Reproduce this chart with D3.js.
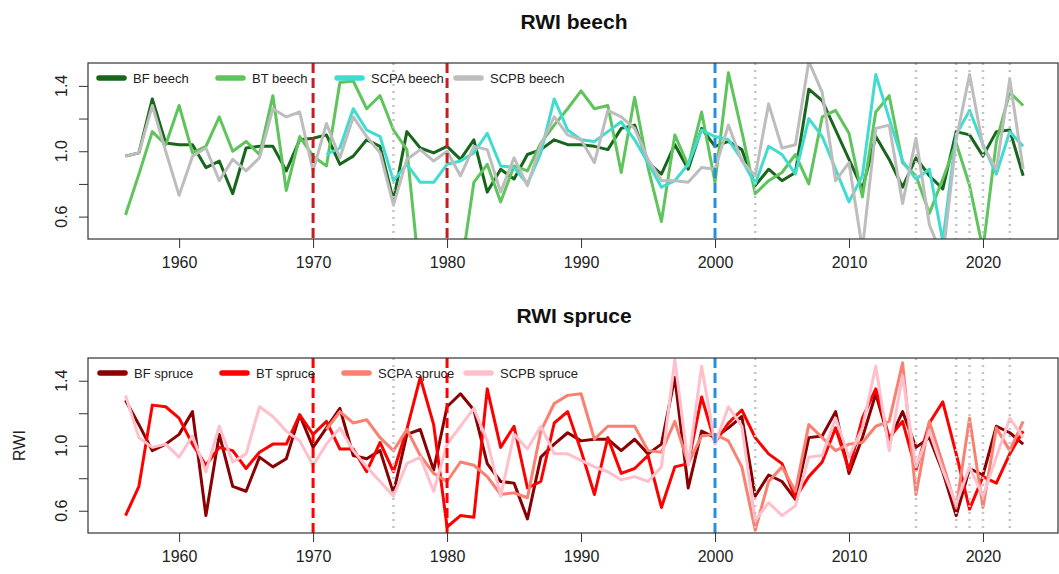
<!DOCTYPE html>
<html>
<head>
<meta charset="utf-8">
<script src="https://cdn.jsdelivr.net/npm/d3@7"></script>
<style>
  body { margin: 0; background: #fff; }
  text { font-family: "Liberation Sans", Arial, sans-serif; }
</style>
</head>
<body>
<div id="chart"></div>
<script>
  "use strict";

  // years 1956 - 2023
  var years = d3.range(1956, 2024);

  var bfBeech = [0.97, 0.99, 1.32, 1.05, 1.04, 1.04, 0.90, 0.94, 0.74, 1.02, 1.03, 1.03, 0.88, 1.07, 1.08, 1.10, 0.92, 0.97, 1.07, 1.03, 0.70, 1.12, 1.02, 0.99,
    1.03, 0.95, 1.07, 0.75, 0.89, 0.83, 0.98, 1.01, 1.07, 1.04, 1.04, 1.03, 1.01, 1.14, 1.16, 0.93, 0.86, 1.04, 0.89, 1.14, 1.03, 1.06, 1.01,
    0.79, 0.89, 0.82, 0.87, 1.38, 1.31, 1.13, 0.95, 0.77, 1.09, 0.95, 0.78, 0.96, 0.85, 0.77, 1.12, 1.10, 0.97, 1.12, 1.13, 0.85];
  var btBeech = [0.61, 0.86, 1.12, 1.04, 1.28, 0.99, 1.03, 1.21, 1.00, 1.06, 0.98, 1.34, 0.76, 1.09, 0.97, 0.91, 1.42, 1.43, 1.26, 1.34, 1.13, 1.01, 0.20, 0.30,
    0.25, 0.25, 0.81, 0.92, 0.69, 0.91, 0.88, 1.05, 1.16, 1.26, 1.37, 1.26, 1.28, 0.87, 1.33, 0.90, 0.57, 1.10, 0.91, 1.24, 0.81, 1.48, 1.12,
    0.74, 0.82, 0.87, 0.98, 0.80, 1.21, 1.25, 1.11, 0.72, 1.24, 1.34, 0.93, 0.85, 0.62, 0.83, 1.05, 0.79, 0.40, 1.06, 1.36, 1.28];
  var scpaBeech = [null, null, null, null, null, null, null, null, null, null, null, null, null, null, null, 0.98, 1.02, 1.26, 1.13, 1.09, 0.82, 0.92, 0.81, 0.81,
    0.92, 0.94, 0.99, 1.11, 0.91, 0.90, 0.80, 0.99, 1.32, 1.13, 1.07, 1.06, 1.12, 1.18, 1.07, 0.93, 0.78, 0.82, 0.92, 1.13, 1.09, 1.07, 0.95,
    0.80, 1.03, 0.98, 0.86, 1.20, 1.09, 0.89, 0.69, 0.85, 1.47, 1.20, 0.94, 0.83, 0.89, 0.45, 1.10, 1.25, 1.04, 0.86, 1.12, 1.03];
  var scpbBeech = [0.97, 0.99, 1.28, 1.00, 0.73, 0.97, 1.02, 0.82, 0.95, 0.88, 0.96, 1.26, 1.21, 1.24, 0.88, 1.17, 0.96, 1.21, 1.09, 0.99, 0.67, 0.95, 1.01, 0.94,
    1.00, 0.85, 1.03, 1.01, 0.75, 0.96, 0.79, 1.04, 1.21, 1.10, 1.07, 0.93, 1.25, 1.21, 1.14, 0.95, 0.82, 0.82, 0.81, 0.90, 0.89, 1.16, 0.94,
    0.85, 1.29, 1.02, 1.04, 1.55, 1.36, 0.82, 0.93, 0.40, 1.14, 1.16, 0.68, 1.08, 0.55, 0.35, 1.07, 1.47, 1.03, 0.89, 1.44, 0.89];

  var bfSpruce = [1.28, 1.13, 0.97, 1.01, 1.07, 1.21, 0.57, 1.07, 0.75, 0.72, 0.93, 0.87, 0.92, 1.19, 0.99, 1.11, 1.23, 0.94, 0.92, 0.97, 0.71, 1.07, 1.10, 0.85,
    1.24, 1.32, 1.22, 0.89, 0.78, 0.77, 0.55, 0.93, 1.01, 1.08, 1.03, 1.04, 1.04, 0.97, 1.04, 0.95, 1.01, 1.42, 0.74, 1.09, 1.05, 1.11, 1.18,
    0.69, 0.82, 0.78, 0.67, 1.05, 1.06, 1.21, 0.83, 1.05, 1.32, 1.03, 1.21, 0.99, 1.05, 0.84, 0.57, 0.86, 0.82, 1.12, 1.08, 1.01];
  var btSpruce = [0.57, 0.75, 1.25, 1.24, 1.17, 1.01, 0.88, 0.99, 0.97, 0.86, 0.96, 1.01, 1.01, 1.19, 1.07, 1.15, 0.98, 0.98, 0.84, 1.02, 0.84, 1.10, 1.42, 1.13,
    0.50, 0.57, 0.56, 1.35, 0.99, 1.12, 0.74, 0.78, 1.14, 1.21, 0.97, 0.70, 1.05, 0.83, 0.86, 0.94, 0.62, 0.87, 0.89, 1.30, 1.02, 1.14, 1.22,
    1.05, 0.95, 0.89, 0.68, 0.81, 0.90, 1.11, 0.85, 1.17, 1.35, 1.05, 1.15, 0.85, 1.14, 1.27, 0.95, 0.61, 0.81, 0.77, 0.95, 1.09];
  var scpaSpruce = [null, null, null, null, null, null, null, null, null, null, null, null, null, null, null, 1.10, 1.21, 1.14, 1.16, 1.05, 0.97, 1.10, 0.94, 0.83,
    0.78, 0.90, 0.88, 0.81, 0.70, 0.71, 0.68, 1.09, 1.26, 1.31, 1.32, 1.04, 1.12, 1.12, 1.12, 0.97, 0.96, 1.15, 0.89, 1.06, 1.07, 1.03, 0.87,
    0.48, 0.78, 0.87, 0.72, 1.13, 1.05, 0.97, 1.01, 1.02, 1.12, 1.15, 1.51, 0.70, 1.15, 0.89, 0.62, 1.17, 0.62, 1.11, 0.97, 1.15];
  var scpbSpruce = [1.31, 1.05, 0.99, 1.01, 0.93, 1.06, 0.84, 1.12, 0.90, 0.95, 1.24, 1.18, 1.09, 1.03, 0.88, 1.01, 1.11, 0.97, 0.87, 0.78, 0.69, 0.89, 0.93, 0.72,
    1.01, 1.12, 1.23, 1.03, 0.69, 1.07, 0.98, 1.12, 0.95, 0.95, 0.91, 0.87, 0.84, 0.79, 0.81, 0.78, 0.87, 1.53, 0.88, 1.49, 1.01, 1.24, 1.12,
    0.54, 0.65, 0.57, 0.63, 0.93, 0.94, 1.17, 0.93, 1.11, 1.49, 0.97, 1.43, 0.87, 1.09, 0.85, 0.64, 0.87, 0.69, 0.93, 1.17, 1.05];

  var beechNames = ["BF beech", "BT beech", "SCPA beech", "SCPB beech"];
  var spruceNames = ["BF spruce", "BT spruce", "SCPA spruce", "SCPB spruce"];

  // event years
  var dashedYears = [1970, 1980, 2000];
  var dottedYears = [1976, 2003, 2015, 2018, 2019, 2020, 2022];
  var xTicks = [1960, 1970, 1980, 1990, 2000, 2010, 2020];
  var yTicks = [0.6, 0.8, 1.0, 1.2, 1.4];
  var yLabels = [0.6, 1.0, 1.4];

  var width = 1059, height = 574;
  var left = 88, right = 1058;

  var svg = d3.select("#chart").append("svg")
    .attr("width", width)
    .attr("height", height);

  var x = d3.scaleLinear().domain([1953.2, 2025.6]).range([left, right]);

  function drawPanel(opts) {
    var y = d3.scaleLinear().domain([0.463, 1.54]).range([opts.bottom, opts.top]);
    var g = svg.append("g");

    // clip to plot box
    g.append("clipPath").attr("id", "clip-" + opts.id)
      .append("rect")
      .attr("x", left).attr("y", opts.top)
      .attr("width", right - left).attr("height", opts.bottom - opts.top);

    // title
    g.append("text")
      .attr("x", 574)
      .attr("y", opts.titleY)
      .attr("text-anchor", "middle")
      .style("font-size", "21px")
      .style("font-weight", "bold")
      .attr("fill", "#111")
      .text(opts.title);

    var line = d3.line()
      .defined(function (d) { return d[1] != null; })
      .x(function (d) { return x(d[0]); })
      .y(function (d) { return y(d[1]); });

    var lines = g.append("g").attr("clip-path", "url(#clip-" + opts.id + ")");
    opts.series.forEach(function (s, i) {
      lines.append("path")
        .datum(years.map(function (yr, j) { return [yr, s[j]]; }))
        .attr("fill", "none")
        .attr("stroke", opts.colors[i])
        .attr("stroke-width", 3)
        .attr("stroke-linejoin", "round")
        .attr("d", line);
    });

    // vertical markers
    lines.selectAll("line.dotted")
      .data(dottedYears)
      .enter().append("line")
      .attr("x1", function (d) { return x(d); })
      .attr("x2", function (d) { return x(d); })
      .attr("y1", opts.top).attr("y2", opts.bottom)
      .attr("stroke", "#c4c4c4")
      .attr("stroke-width", 2.5)
      .attr("stroke-dasharray", "2,5");
    lines.selectAll("line.dashed")
      .data(dashedYears)
      .enter().append("line")
      .attr("x1", function (d) { return x(d); })
      .attr("x2", function (d) { return x(d); })
      .attr("y1", opts.top).attr("y2", opts.bottom)
      .attr("stroke", function (d) { return d === 2000 ? "#2590e0" : opts.markRed; })
      .attr("stroke-width", 3)
      .attr("stroke-dasharray", "10,5");

    // box
    g.append("rect")
      .attr("x", left).attr("y", opts.top)
      .attr("width", right - left).attr("height", opts.bottom - opts.top)
      .attr("fill", "none")
      .attr("stroke", "#333")
      .attr("stroke-width", 1.2);

    // x axis
    var xAxis = d3.axisBottom(x).tickValues(xTicks).tickFormat(d3.format("d")).tickSize(9).tickPadding(9);
    var xa = g.append("g")
      .attr("transform", "translate(0," + opts.bottom + ")")
      .call(xAxis);
    xa.select(".domain").remove();
    xa.selectAll("line").attr("stroke", "#333");
    xa.selectAll("text").style("font-size", "16px").attr("fill", "#222");

    // y axis
    var yAxis = d3.axisLeft(y).tickValues(yTicks).tickSize(9).tickFormat("");
    var ya = g.append("g")
      .attr("transform", "translate(" + left + ",0)")
      .call(yAxis);
    ya.select(".domain").remove();
    ya.selectAll("line").attr("stroke", "#333");
    g.selectAll("text.ylab")
      .data(yLabels)
      .enter().append("text")
      .attr("class", "ylab")
      .attr("transform", function (d) { return "translate(" + (left - 21) + "," + y(d) + ") rotate(-90)"; })
      .attr("text-anchor", "middle")
      .style("font-size", "16px")
      .attr("fill", "#222")
      .text(d3.format(".1f"));

    if (opts.yTitle) {
      g.append("text")
        .attr("transform", "translate(25," + (opts.top + opts.bottom) / 2 + ") rotate(-90)")
        .attr("text-anchor", "middle")
        .style("font-size", "16px")
        .attr("fill", "#222")
        .text(opts.yTitle);
    }

    // legend
    var lg = g.append("g");
    opts.names.forEach(function (name, i) {
      var lx = opts.legendX + i * opts.legendStep;
      lg.append("line")
        .attr("x1", lx).attr("x2", lx + 25)
        .attr("y1", opts.legendY).attr("y2", opts.legendY)
        .attr("stroke", opts.colors[i])
        .attr("stroke-width", 5.5)
        .attr("stroke-linecap", "round");
      lg.append("text")
        .attr("x", lx + 34)
        .attr("y", opts.legendY + 4.5)
        .style("font-size", "13px")
        .attr("fill", "#222")
        .text(name);
    });
  }

  drawPanel({
    id: "beech", title: "RWI beech", top: 63, bottom: 239, titleY: 29,
    series: [bfBeech, btBeech, scpaBeech, scpbBeech],
    names: beechNames,
    colors: ["#17661c", "#5fc45c", "#40dcd0", "#bdbdbd"],
    markRed: "#c41e1e",
    legendX: 99, legendY: 78, legendStep: 119
  });

  drawPanel({
    id: "spruce", title: "RWI spruce", top: 358, bottom: 533, titleY: 323,
    series: [bfSpruce, btSpruce, scpaSpruce, scpbSpruce],
    names: spruceNames,
    colors: ["#8b0000", "#ff0000", "#fa8072", "#ffc0cb"],
    markRed: "#ff0000",
    yTitle: "RWI",
    legendX: 100, legendY: 373, legendStep: 122
  });
</script>
</body>
</html>
